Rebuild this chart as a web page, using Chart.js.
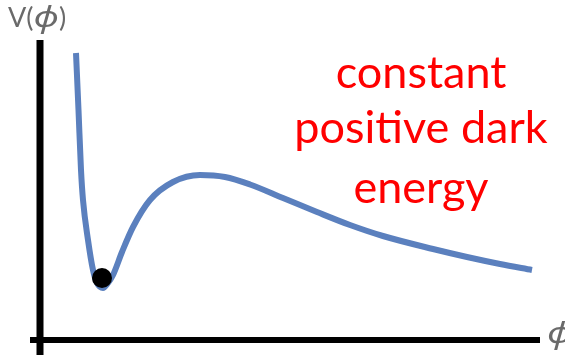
<!DOCTYPE html>
<html>
<head>
<meta charset="utf-8">
<script src="https://cdn.jsdelivr.net/npm/chart.js@4/dist/chart.umd.min.js"></script>
<style>
  html, body { margin: 0; padding: 0; background: #ffffff; }
  #wrap { width: 565px; height: 356px; }
</style>
</head>
<body>
<div id="wrap"><canvas id="c" width="565" height="356"></canvas></div>
<script>
// Potential V(phi): field value and potential height along the curve
const phiValues = [0.36, 0.385, 0.41, 0.43, 0.48, 0.53, 0.57, 0.63, 0.68, 0.73, 0.82, 0.93, 1.10, 1.33, 1.60, 1.85, 2.10, 2.43, 2.77, 3.10, 3.43, 3.93, 4.27, 4.60, 4.92];
const potentialValues = [2.87, 2.30, 1.70, 1.40, 1.00, 0.70, 0.57, 0.52, 0.57, 0.65, 0.88, 1.13, 1.40, 1.58, 1.65, 1.63, 1.555, 1.42, 1.28, 1.15, 1.04, 0.91, 0.83, 0.76, 0.70];

// Ball resting in the local minimum
const ballPhi = [0.62];
const ballV = [0.62];

// Axis extents (axes cross at the origin and overshoot a little)
const phiAxisRange = [-0.10, 5.00];
const vAxisRange = [-0.15, 3.00];

// Text
const phiSymbol = 'ϕ';
const noteLines = ['constant', 'positive dark', 'energy'];

const curve = phiValues.map((p, i) => ({ x: p, y: potentialValues[i] }));
const ball = ballPhi.map((p, i) => ({ x: p, y: ballV[i] }));

// italic phi, stretched a little wider than the font draws it
function drawPhi(ctx, x, y) {
  ctx.save();
  ctx.font = 'italic 30px "Noto Sans"';
  ctx.textAlign = 'left';
  ctx.translate(x, y);
  ctx.scale(1.25, 1);
  ctx.fillText(phiSymbol, 0, 0);
  const w = ctx.measureText(phiSymbol).width * 1.25;
  ctx.restore();
  return w;
}

const annotations = {
  id: 'annotations',
  afterDatasetsDraw(chart) {
    const { ctx, scales } = chart;
    const xs = scales.x, ys = scales.y;
    ctx.save();
    ctx.textBaseline = 'alphabetic';

    // V(phi) axis label
    const labelFont = '27px Lato';
    ctx.fillStyle = '#6a6a6a';
    ctx.textAlign = 'left';
    ctx.font = labelFont;
    let x = 8, yb = 27;
    ctx.fillText('V(', x, yb);
    x += ctx.measureText('V(').width;
    x += drawPhi(ctx, x, yb);
    ctx.font = labelFont;
    ctx.fillText(')', x, yb);

    // phi axis label
    drawPhi(ctx, xs.getPixelForValue(5.07), ys.getPixelForValue(-0.03));

    // red note
    ctx.fillStyle = '#ff0000';
    ctx.textAlign = 'center';
    ctx.font = '45px Lato';
    const cx = xs.getPixelForValue(3.81);
    const baselines = [2.52, 1.97, 1.37];
    noteLines.forEach((t, i) => ctx.fillText(t, cx, ys.getPixelForValue(baselines[i])));
    ctx.restore();
  }
};

new Chart(document.getElementById('c'), {
  type: 'scatter',
  data: {
    datasets: [
      {
        data: ball,
        order: 0,
        pointRadius: 10,
        pointBackgroundColor: '#000000',
        pointBorderWidth: 0,
        showLine: false
      },
      {
        data: curve,
        order: 1,
        showLine: true,
        borderColor: '#5b80be',
        borderWidth: 6,
        pointRadius: 0,
        cubicInterpolationMode: 'monotone',
        borderCapStyle: 'butt',
        clip: false
      },
      {
        data: [{ x: 0, y: vAxisRange[0] }, { x: 0, y: vAxisRange[1] }],
        order: 2,
        showLine: true,
        borderColor: '#000000',
        borderWidth: 7,
        pointRadius: 0,
        borderCapStyle: 'butt',
        clip: false
      },
      {
        data: [{ x: phiAxisRange[0], y: 0 }, { x: phiAxisRange[1], y: 0 }],
        order: 2,
        showLine: true,
        borderColor: '#000000',
        borderWidth: 6,
        pointRadius: 0,
        borderCapStyle: 'butt',
        clip: false
      }
    ]
  },
  options: {
    responsive: false,
    animation: false,
    events: [],
    layout: { autoPadding: false, padding: 0 },
    plugins: { legend: { display: false }, tooltip: { enabled: false } },
    scales: {
      x: { type: 'linear', display: false, min: -0.40, max: 5.25 },
      y: { type: 'linear', display: false, min: -0.16, max: 3.40 }
    }
  },
  plugins: [annotations]
});
</script>
</body>
</html>
